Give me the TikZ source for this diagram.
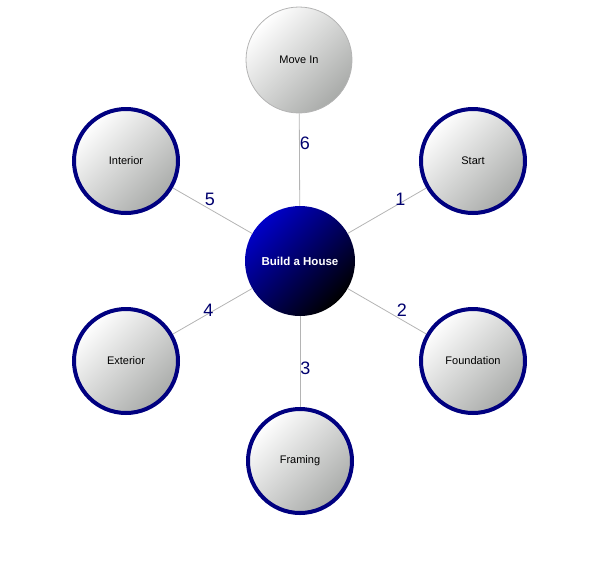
\documentclass[tikz,border=0pt]{standalone}
\usepackage{fontspec}
\setmainfont{Liberation Sans}
\usepackage{xcolor}
\usetikzlibrary{positioning}

\definecolor{rimblue}{HTML}{000080}
\definecolor{hubblue}{HTML}{0000C8}
\definecolor{stepgray}{HTML}{A9ABA9}
\definecolor{wiregray}{HTML}{B4B4B4}
\definecolor{numblue}{HTML}{00006E}

\tikzset{
  hub/.style={circle, minimum size=110pt, inner sep=0pt,
    top color=hubblue, bottom color=black, shading angle=45,
    text=white, font=\fontsize{11.5}{13}\selectfont\bfseries},
  phase/.style={circle, minimum size=104pt, inner sep=0pt,
    draw=rimblue, line width=4pt,
    top color=white, bottom color=stepgray, shading angle=45,
    font=\fontsize{11}{13}\selectfont},
  lastphase/.style={phase, draw=wiregray, line width=0.8pt, minimum size=106pt},
  wire/.style={draw=wiregray, line width=0.8pt},
  stepno/.style={anchor=south west, inner sep=0pt, text=numblue,
    font=\fontsize{18}{20}\selectfont}
}

\begin{document}
\begin{tikzpicture}[x=1pt, y=-1pt]
    \useasboundingbox (0,0) rectangle (608,566);
    \node[hub] (house) at (300,261) {Build a House};
    \node[lastphase] (p6) at (299,60) {Move In};
    \foreach \i/\x/\y/\t in {1/473/161/Start,2/473/361/Foundation,3/300/461/Framing,
                             4/126/361/Exterior,5/126/161/Interior} {
        \node[phase] (p\i) at (\x,\y) {\t};
    }
    \foreach \i/\p in {1/0.6,2/0.62,3/0.65,4/0.62,5/0.6,6/0.6} {
        \draw[wire] (house) -- (p\i) node[stepno, pos=\p] {\i};
    }
\end{tikzpicture}
\end{document}
